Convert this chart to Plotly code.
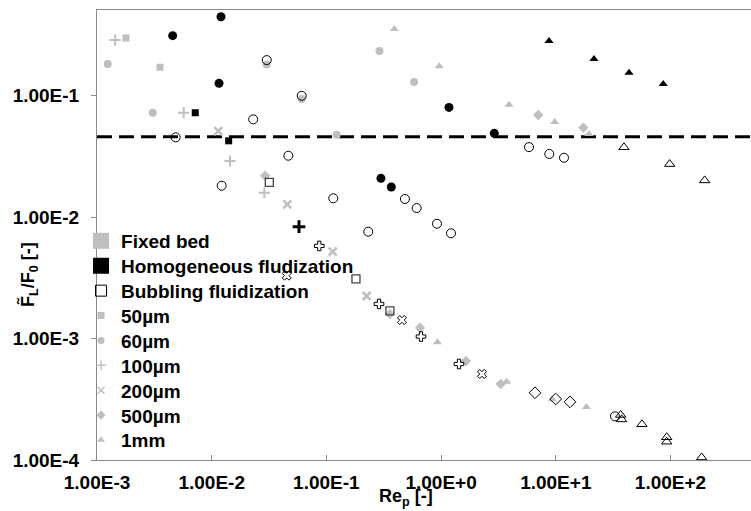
import plotly.graph_objects as go

# ---------------- data ----------------
# Fixed bed (grey filled markers)
fb_50_x = [0.00179, 0.00354]
fb_50_y = [0.299, 0.172]
fb_60_x = [0.00124, 0.00306, 0.0302, 0.0609, 0.123, 0.290, 0.581]
fb_60_y = [0.183, 0.0726, 0.1815, 0.0942, 0.0479, 0.234, 0.130]
fb_100_x = [0.00144, 0.00570, 0.01444, 0.0288]
fb_100_y = [0.288, 0.0726, 0.0290, 0.0159]
fb_200_x = [0.01142, 0.0456, 0.1135, 0.2244]
fb_200_y = [0.0513, 0.01276, 0.00520, 0.002244]
fb_500_x = [0.0292, 0.358, 0.655, 1.648, 3.308, 7.04, 17.38]
fb_500_y = [0.0220, 0.001595, 0.00123, 0.000654, 0.000423, 0.0695, 0.0546]
fb_1mm_x = [0.391, 0.964, 3.91, 9.78, 19.47, 0.927, 3.73, 9.32, 18.45]
fb_1mm_y = [0.355, 0.175, 0.0845, 0.0608, 0.0484, 0.000932, 0.000442, 0.000316, 0.000273]

# Homogeneous fluidization (black filled markers)
ho_50_x = [0.00719, 0.01406]
ho_50_y = [0.0726, 0.0426]
ho_60_x = [0.00457, 0.01205, 0.01158, 0.299, 0.368, 1.172, 2.91]
ho_60_y = [0.313, 0.448, 0.1267, 0.0209, 0.01774, 0.0803, 0.0491]
ho_100_x = [0.0577]
ho_100_y = [0.00836]
ho_1mm_x = [8.73, 21.53, 43.5, 86.5]
ho_1mm_y = [0.2825, 0.201, 0.155, 0.125]

# Bubbling fluidization (open markers)
bu_50_x = [0.0318, 0.181, 0.358]
bu_50_y = [0.0194, 0.0031, 0.00169]
bu_60_x = [0.00485, 0.0302, 0.0609, 0.0230, 0.0466, 0.01222, 0.1148, 0.2317,
           0.484, 0.612, 0.921, 1.22, 5.84, 8.78, 11.79, 32.8]
bu_60_y = [0.0455, 0.197, 0.100, 0.0640, 0.0321, 0.01818, 0.01432, 0.0076,
           0.01413, 0.0119, 0.00884, 0.00737, 0.0378, 0.0332, 0.0309, 0.000229]
bu_100_x = [0.0867, 0.2875, 0.668, 1.432]
bu_100_y = [0.00580, 0.00193, 0.00104, 0.000618]
bu_200_x = [0.0451, 0.456, 2.273]
bu_200_y = [0.0033, 0.001422, 0.000511]
bu_500_x = [6.59, 9.98, 13.3]
bu_500_y = [0.000358, 0.000318, 0.000301]
bu_1mm_x = [39.3, 98.4, 198.6, 37.5, 36.8, 56.4, 92.7, 92.7, 187.0]
bu_1mm_y = [0.0377, 0.0274, 0.0201, 0.000216, 0.000235, 0.000197, 0.000154, 0.0001415, 0.000105]

threshold_y = 0.046

x_tickvals = [1e-3, 1e-2, 1e-1, 1e0, 1e1, 1e2]
x_ticktext = ["1.00E-3", "1.00E-2", "1.00E-1", "1.00E+0", "1.00E+1", "1.00E+2"]
y_tickvals = [1e-4, 1e-3, 1e-2, 1e-1]
y_ticktext = ["1.00E-4", "1.00E-3", "1.00E-2", "1.00E-1"]

legend_names = ["Fixed bed", "Homogeneous fludization", "Bubbling fluidization",
                "50\u00b5m", "60\u00b5m", "100\u00b5m", "200\u00b5m", "500\u00b5m", "1mm"]

x_range_log = [-3.0, 2.702]
y_range_log = [-4.0, -0.293]
x_line_ends = [1e-3, 10 ** 2.702]

# ---------------- styling ----------------
GREY = "#BFBFBF"
BLACK = "#000000"
FONT = "Liberation Sans, Arial, sans-serif"

fig = go.Figure()


def add(x, y, symbol, color, size, lw=0, lcolor=None):
    fig.add_trace(go.Scatter(
        x=x, y=y, mode="markers", showlegend=False, hoverinfo="skip",
        marker=dict(symbol=symbol, color=color, size=size,
                    line=dict(width=lw, color=lcolor if lcolor else color)),
    ))


# dashed threshold line
fig.add_trace(go.Scatter(x=x_line_ends, y=[threshold_y, threshold_y], mode="lines",
                         showlegend=False, hoverinfo="skip",
                         line=dict(color=BLACK, width=3, dash="15px,7px")))

# fixed bed (grey)
add(fb_50_x, fb_50_y, "square", GREY, 7)
add(fb_60_x, fb_60_y, "circle", GREY, 8)
add(fb_100_x, fb_100_y, "cross-thin", GREY, 8, 2)
add(fb_200_x, fb_200_y, "x-thin", GREY, 8, 2.5)
add(fb_500_x, fb_500_y, "diamond", GREY, 8)
add(fb_1mm_x, fb_1mm_y, "triangle-up", GREY, 8)

# bubbling (open)
add(bu_50_x, bu_50_y, "square-open", "#444444", 8, 1.3)
add(bu_60_x, bu_60_y, "circle-open", BLACK, 9, 1)
add(bu_100_x, bu_100_y, "cross-open", BLACK, 8, 1)
add(bu_200_x, bu_200_y, "x-open", BLACK, 8, 1)
add(bu_500_x, bu_500_y, "diamond-open", BLACK, 9, 1)
add(bu_1mm_x, bu_1mm_y, "triangle-up-open", BLACK, 9, 1)

# homogeneous (black)
add(ho_50_x, ho_50_y, "square", BLACK, 7)
add(ho_60_x, ho_60_y, "circle", BLACK, 9)
add(ho_100_x, ho_100_y, "cross-thin", BLACK, 9, 3)
add(ho_1mm_x, ho_1mm_y, "triangle-up", BLACK, 8)

# legend entries (one legend box per row so that the row spacing matches)
legend_markers = [
    dict(symbol="square", color=GREY, size=16),
    dict(symbol="square", color=BLACK, size=16),
    dict(symbol="square-open", color=BLACK, size=11, line=dict(width=1, color=BLACK)),
    dict(symbol="square", color=GREY, size=7),
    dict(symbol="circle", color=GREY, size=7),
    dict(symbol="cross-thin", color=GREY, size=7, line=dict(width=1.5, color=GREY)),
    dict(symbol="x-thin", color=GREY, size=7, line=dict(width=1.5, color=GREY)),
    dict(symbol="diamond", color=GREY, size=7),
    dict(symbol="triangle-up", color=GREY, size=7),
]
legend_layouts = {}
PLOT_H = 511 - 10 - 51
for i, (name, mk) in enumerate(zip(legend_names, legend_markers)):
    key = "legend" if i == 0 else f"legend{i + 1}"
    fig.add_trace(go.Scatter(x=[None], y=[None], mode="markers", name=name,
                             marker=mk, legend=key))
    row_center_px = 241 + 24.9 * i
    legend_layouts[key] = dict(
        x=-0.0244, y=(460 - row_center_px) / PLOT_H, xanchor="left", yanchor="middle",
        bgcolor="rgba(0,0,0,0)", borderwidth=0,
        font=dict(family=FONT, size=19, color=BLACK, weight="bold"),
        itemwidth=30,
    )

axis_common = dict(
    type="log", showgrid=False, zeroline=False,
    showline=True, linecolor="#888888", linewidth=1,
    ticklen=5, tickcolor="#888888", tickwidth=1,
    tickfont=dict(family=FONT, size=19, color=BLACK, weight="bold"),
)

fig.update_layout(
    width=751, height=511,
    margin=dict(l=97, r=0, t=10, b=51),
    paper_bgcolor="white", plot_bgcolor="white",
    font=dict(family=FONT, color=BLACK),
    xaxis=dict(axis_common, range=x_range_log, tickvals=x_tickvals, ticktext=x_ticktext,
               ticks="inside", mirror=True, ticklabelstandoff=5),
    yaxis=dict(axis_common, range=y_range_log, tickvals=y_tickvals, ticktext=y_ticktext,
               ticks="outside", mirror=False, ticklabelstandoff=8),
    annotations=[
        dict(text="F\u0303<sub>L</sub>/F<sub>0</sub> [-]", xref="paper", yref="paper",
             x=-0.1055, y=0.411, xanchor="center", yanchor="middle", textangle=-90,
             showarrow=False, font=dict(family=FONT, size=18, color=BLACK, weight="bold")),
        dict(text="Re<sub>p</sub> [-]", xref="paper", yref="paper",
             x=0.4725, y=-0.111, xanchor="center", yanchor="bottom", borderpad=0,
             showarrow=False, font=dict(family=FONT, size=18, color=BLACK, weight="bold")),
    ],
    **legend_layouts,
)

fig.write_html("out.html")
